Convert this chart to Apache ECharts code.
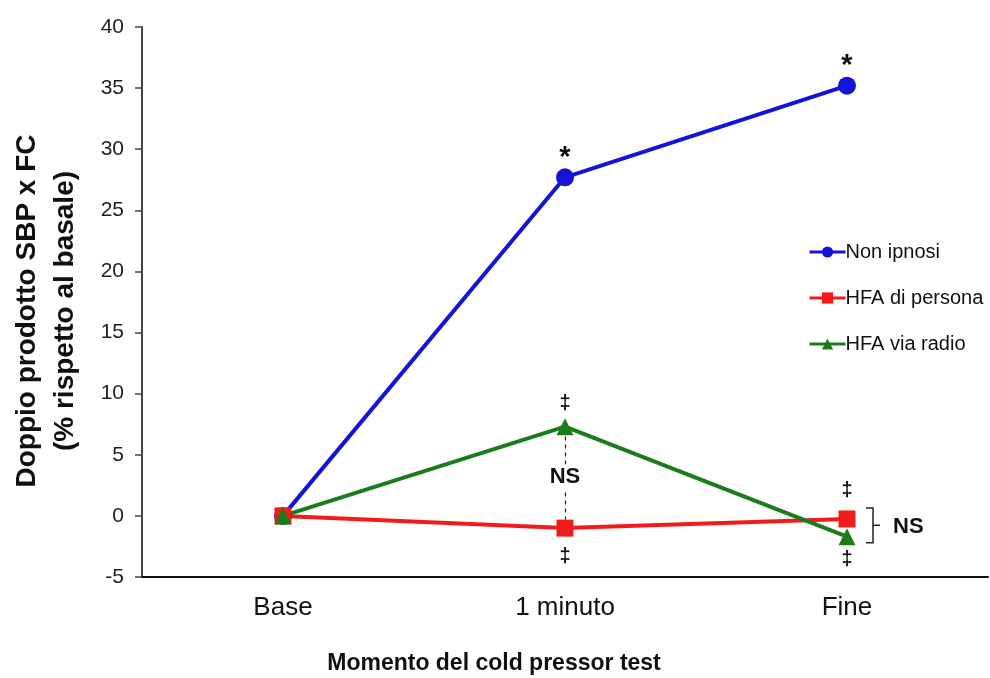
<!DOCTYPE html>
<html>
<head>
<meta charset="utf-8">
<script src="https://cdn.jsdelivr.net/npm/echarts@6/dist/echarts.min.js"></script>
<style>
html,body{margin:0;padding:0;background:#fff}
#chart{width:990px;height:678px}
</style>
</head>
<body>
<div id="chart"></div>
<script>
// dati
const categories = ['Base', '1 minuto', 'Fine'];
const nonIpnosi = [0, 27.7, 35.2];
const hfaPersona = [0, -1.0, -0.25];
const hfaRadio = [0, 7.3, -1.7];
const yMin = -5, yMax = 40, yStep = 5;

// simboli sopra/sotto i punti (testo per ogni categoria)
const starsBlue = ['', '*', '*'];
const daggerRedBelow = ['', '\u2021', ''];
const daggerRedAbove = ['', '', '\u2021'];
const daggerGreenAbove = ['', '\u2021', ''];
const daggerGreenBelow = ['', '', '\u2021'];

const FONT = 'Liberation Sans, Arial, sans-serif';
const BLUE = '#1414d6', RED = '#f01c1c', GREEN = '#1c7c1c';

// etichette: above/below = testi, gaps = distanza in px per ogni punto
function withLabel(vals, above, below, fontSize, gaps) {
  return vals.map((v, i) => {
    const item = { value: v };
    const txt = above[i] || below[i];
    if (txt) {
      item.label = {
        show: true,
        position: above[i] ? 'top' : 'bottom',
        formatter: txt,
        color: '#111',
        fontSize: fontSize,
        lineHeight: fontSize,
        fontWeight: 'bold',
        fontFamily: FONT,
        distance: gaps[i]
      };
    }
    return item;
  });
}

const chart = echarts.init(document.getElementById('chart'));

const option = {
  backgroundColor: '#fff',
  animation: false,
  grid: { left: 142, right: 2, top: 27, bottom: 101, containLabel: false, outerBoundsMode: 'none' },
  legend: {
    orient: 'vertical',
    left: 803,
    top: 237,
    itemWidth: 36,
    itemHeight: 14,
    itemGap: 26,
    lineStyle: { width: 3 },
    textStyle: { fontFamily: FONT, fontSize: 20, lineHeight: 20, color: '#111', padding: [0, 0, 0, -5] },
    data: ['Non ipnosi', 'HFA di persona', 'HFA via radio']
  },
  xAxis: {
    type: 'category',
    data: categories,
    axisLine: { onZero: false, lineStyle: { color: '#111', width: 2 } },
    axisTick: { show: false },
    axisLabel: { fontFamily: FONT, fontSize: 26, color: '#111', margin: 18 },
    name: 'Momento del cold pressor test',
    nameLocation: 'middle',
    nameGap: 75,
    nameTextStyle: { fontFamily: FONT, fontSize: 23, fontWeight: 'bold', color: '#111', padding: [0, 142, 0, 0] }
  },
  yAxis: {
    type: 'value',
    min: yMin,
    max: yMax,
    interval: yStep,
    splitLine: { show: false },
    axisLine: { show: true, lineStyle: { color: '#444', width: 2 } },
    axisTick: { show: true, length: 7, lineStyle: { color: '#444', width: 1.5 } },
    axisLabel: { fontFamily: FONT, fontSize: 21, color: '#222', margin: 18 },
    name: 'Doppio prodotto SBP x FC\n(% rispetto al basale)',
    nameLocation: 'middle',
    nameRotate: 90,
    nameGap: 58,
    nameTextStyle: { fontFamily: FONT, fontSize: 28, fontWeight: 'bold', color: '#111', lineHeight: 38, align: 'center', padding: [0, 18, 0, 0] }
  },
  series: [
    {
      name: 'Non ipnosi',
      type: 'line',
      data: withLabel(nonIpnosi, starsBlue, ['', '', ''], 29, [0, -4, -4]),
      symbol: 'circle',
      symbolSize: 18,
      color: BLUE,
      lineStyle: { width: 4, color: BLUE },
      itemStyle: { color: BLUE }
    },
    {
      name: 'HFA di persona',
      type: 'line',
      data: withLabel(hfaPersona, daggerRedAbove, daggerRedBelow, 20, [0, 10, 10]),
      symbol: 'rect',
      symbolSize: 17,
      color: RED,
      lineStyle: { width: 4, color: RED },
      itemStyle: { color: RED }
    },
    {
      name: 'HFA via radio',
      type: 'line',
      data: withLabel(hfaRadio, daggerGreenAbove, daggerGreenBelow, 20, [0, 5, 4]),
      symbol: 'triangle',
      symbolSize: 17,
      color: GREEN,
      lineStyle: { width: 4, color: GREEN },
      itemStyle: { color: GREEN },
      markLine: {
        silent: true,
        symbol: 'none',
        lineStyle: { type: [4, 4], color: '#222', width: 1.2 },
        label: { show: false },
        data: [[{ coord: [1, hfaRadio[1] - 0.8] }, { coord: [1, hfaPersona[1] + 0.7] }]]
      },
      markPoint: {
        silent: true,
        symbol: 'rect',
        symbolSize: [36, 26],
        itemStyle: { color: '#fff' },
        label: {
          show: true,
          position: 'inside',
          formatter: 'NS',
          fontFamily: FONT,
          fontSize: 22,
          fontWeight: 'bold',
          color: '#111'
        },
        data: [{ coord: [1, (hfaRadio[1] + hfaPersona[1]) / 2] }]
      }
    }
  ]
};

chart.setOption(option);

// parentesi graffa "NS" accanto ai punti finali
const pTop = chart.convertToPixel({ seriesIndex: 1 }, [2, hfaPersona[2]]);
const pBot = chart.convertToPixel({ seriesIndex: 2 }, [2, hfaRadio[2]]);
const bx = pTop[0] + 26, y0 = pTop[1] - 11, y1 = pBot[1] + 6, ym = (y0 + y1) / 2;
chart.setOption({
  graphic: [
    {
      type: 'polyline',
      shape: { points: [[bx - 7, y0], [bx, y0], [bx, y1], [bx - 7, y1]] },
      style: { stroke: '#222', lineWidth: 1.5, fill: null }
    },
    {
      type: 'line',
      shape: { x1: bx, y1: ym, x2: bx + 7, y2: ym },
      style: { stroke: '#222', lineWidth: 1.5 }
    },
    {
      type: 'text',
      x: bx + 20,
      y: ym + 2,
      style: { text: 'NS', font: 'bold 22px ' + FONT, fill: '#111', verticalAlign: 'middle' }
    }
  ]
});
</script>
</body>
</html>
